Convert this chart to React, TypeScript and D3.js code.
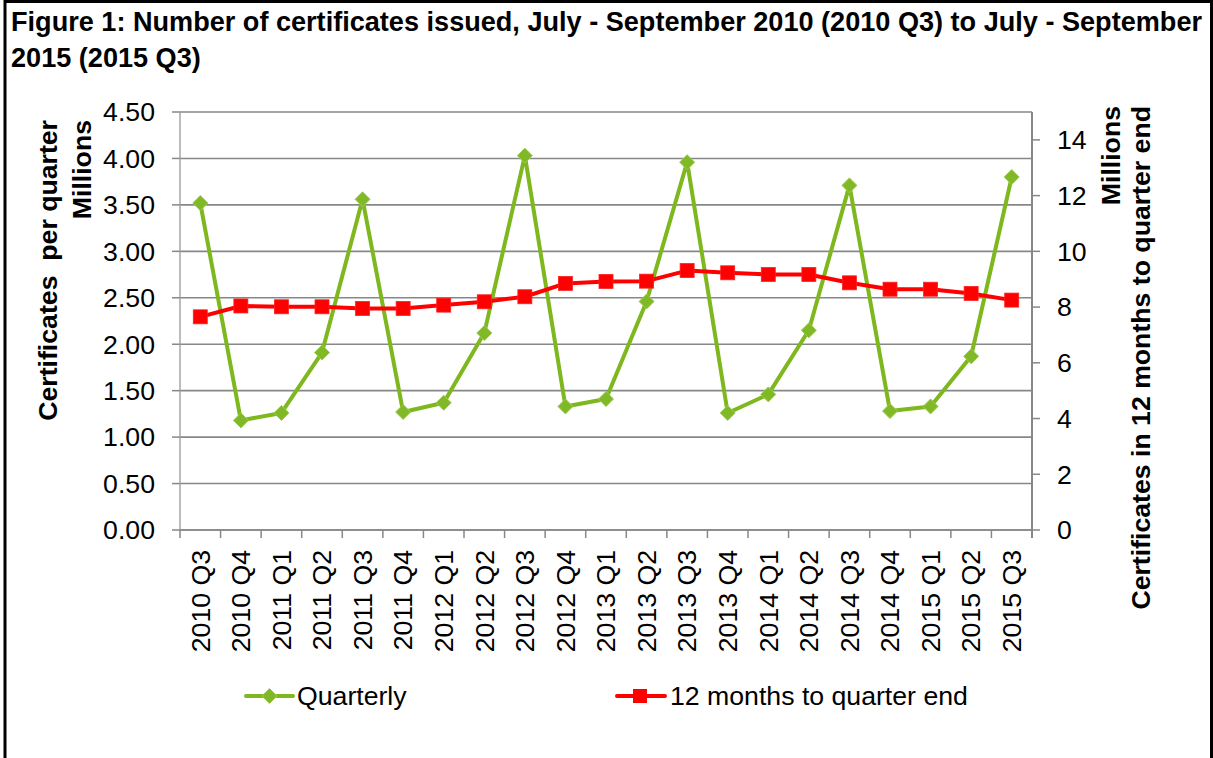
import React from "react";
import * as d3 from "d3";

const categories = [
  "2010 Q3", "2010 Q4", "2011 Q1", "2011 Q2", "2011 Q3", "2011 Q4", "2012 Q1",
  "2012 Q2", "2012 Q3", "2012 Q4", "2013 Q1", "2013 Q2", "2013 Q3", "2013 Q4",
  "2014 Q1", "2014 Q2", "2014 Q3", "2014 Q4", "2015 Q1", "2015 Q2", "2015 Q3",
];
// Certificates per quarter (millions, left axis)
const quarterly = [
  3.52, 1.18, 1.26, 1.91, 3.56, 1.27, 1.37, 2.12, 4.03, 1.33, 1.41,
  2.46, 3.96, 1.26, 1.46, 2.15, 3.71, 1.28, 1.33, 1.87, 3.8,
];
// Certificates in 12 months to quarter end (millions, right axis)
const rolling = [
  7.65, 8.04, 8.01, 8.01, 7.95, 7.95, 8.07, 8.19, 8.37, 8.85, 8.92,
  8.93, 9.31, 9.23, 9.17, 9.17, 8.87, 8.64, 8.64, 8.49, 8.25,
];
const leftTicks = [0, 0.5, 1, 1.5, 2, 2.5, 3, 3.5, 4, 4.5];
const rightTicks = [0, 2, 4, 6, 8, 10, 12, 14];
const seriesNames = ["Quarterly", "12 months to quarter end"];
const titleLines = [
  "Figure 1: Number of certificates issued, July - September 2010 (2010 Q3) to July - September",
  "2015 (2015 Q3)",
];

const W = 1213;
const H = 758;
const FONT = "'Liberation Sans', Arial, Helvetica, sans-serif";
const FS = 26.67;
const GREEN = "#7EB71E";
const GREEN_FILL = "#80B925";
const GREEN_EDGE = "#9BCB55";
const RED = "#FF0000";
const GRID = "#878787";

export default function App() {
  const left = 180, right = 1032, top = 112, bottom = 530;
  const x = d3.scaleBand<string>().domain(categories).range([left, right]);
  const yL = d3.scaleLinear().domain([0, 4.5]).range([bottom, top]);
  const yR = d3.scaleLinear().domain([0, 15]).range([bottom, top]);
  const cx = (c: string) => (x(c) as number) + x.bandwidth() / 2;

  const lineQ = d3.line<number>().x((_, i) => cx(categories[i])).y((d) => yL(d));
  const lineR = d3.line<number>().x((_, i) => cx(categories[i])).y((d) => yR(d));

  const diamond = (px: number, py: number, r: number) =>
    `M${px},${py - r}L${px + r},${py}L${px},${py + r}L${px - r},${py}Z`;

  const tickEdges = d3.range(categories.length + 1).map((i) => left + i * x.step());

  return (
    <svg
      width={W}
      height={H}
      style={{ position: "absolute", left: 0, top: 0, background: "#fff" }}
      fontFamily={FONT}
    >
      <rect x={0} y={0} width={W} height={H} fill="#fff" />
      {/* frame */}
      <path d={`M5,${H}V1.5H1211.5V${H}`} fill="none" stroke="#000" strokeWidth={3} />

      {/* title */}
      {titleLines.map((t, i) => (
        <text key={i} x={11} y={31 + i * 35.5} fontSize={27.1} fontWeight="bold" fill="#000">
          {t}
        </text>
      ))}

      {/* gridlines */}
      {leftTicks.map((t) => (
        <line key={t} x1={left} x2={right} y1={yL(t)} y2={yL(t)} stroke={GRID} strokeWidth={1.6} />
      ))}

      {/* left axis */}
      <line x1={left} x2={left} y1={top} y2={bottom} stroke="#a6a6a6" strokeWidth={1.5} />
      {leftTicks.map((t) => (
        <g key={t}>
          <line x1={left - 8} x2={left} y1={yL(t)} y2={yL(t)} stroke={GRID} strokeWidth={1.5} />
          <text x={155} y={yL(t)} dy="0.35em" textAnchor="end" fontSize={FS} fill="#000">
            {d3.format(".2f")(t)}
          </text>
        </g>
      ))}

      {/* right axis */}
      <line x1={right} x2={right} y1={top} y2={bottom + 8} stroke={GRID} strokeWidth={2} />
      {rightTicks.map((t) => (
        <g key={t}>
          <line x1={right} x2={right + 8} y1={yR(t)} y2={yR(t)} stroke={GRID} strokeWidth={1.5} />
          <text x={1057} y={yR(t)} dy="0.35em" textAnchor="start" fontSize={FS} fill="#000">
            {t}
          </text>
        </g>
      ))}

      {/* x axis */}
      <line x1={left} x2={right} y1={bottom} y2={bottom} stroke={GRID} strokeWidth={1.6} />
      {tickEdges.map((e, i) => (
        <line key={i} x1={e} x2={e} y1={bottom} y2={bottom + 8} stroke={GRID} strokeWidth={1.5} />
      ))}
      {categories.map((c) => (
        <text
          key={c}
          transform={`translate(${cx(c)},550) rotate(-90)`}
          dy="0.35em"
          textAnchor="end"
          fontSize={FS}
          fill="#000"
        >
          {c}
        </text>
      ))}

      {/* axis titles */}
      <text
        transform="translate(57,120) rotate(-90)"
        textAnchor="end"
        fontSize={FS}
        fontWeight="bold"
        style={{ whiteSpace: "pre" }}
      >
        {"Certificates  per quarter"}
      </text>
      <text transform="translate(90.5,120) rotate(-90)" textAnchor="end" fontSize={FS} fontWeight="bold">
        Millions
      </text>
      <text transform="translate(1120,106) rotate(-90)" textAnchor="end" fontSize={FS} fontWeight="bold">
        Millions
      </text>
      <text
        transform="translate(1150,106) rotate(-90)"
        textAnchor="end"
        fontSize={FS}
        fontWeight="bold"
      >
        Certificates in 12 months to quarter end
      </text>

      {/* series: quarterly */}
      <path d={lineQ(quarterly) || ""} fill="none" stroke={GREEN} strokeWidth={4} strokeLinejoin="round" />
      {quarterly.map((v, i) => (
        <path
          key={i}
          d={diamond(cx(categories[i]), yL(v), 7.5)}
          fill={GREEN_FILL}
          stroke={GREEN_EDGE}
          strokeWidth={1}
        />
      ))}

      {/* series: rolling 12 months */}
      <path d={lineR(rolling) || ""} fill="none" stroke={RED} strokeWidth={4} strokeLinejoin="round" />
      {rolling.map((v, i) => (
        <rect
          key={i}
          x={cx(categories[i]) - 7}
          y={yR(v) - 7}
          width={14}
          height={14}
          fill={RED}
          stroke="#FF2020"
          strokeWidth={0.8}
        />
      ))}

      {/* legend */}
      <g>
        <line x1={246} x2={293} y1={696} y2={696} stroke={GREEN} strokeWidth={4} strokeLinecap="round" />
        <path d={diamond(269.5, 696, 7.5)} fill={GREEN_FILL} stroke={GREEN_EDGE} strokeWidth={1} />
        <text x={297} y={696} dy="0.35em" fontSize={FS} fill="#000">
          {seriesNames[0]}
        </text>
      </g>
      <g>
        <line x1={617} x2={665} y1={696} y2={696} stroke={RED} strokeWidth={4} strokeLinecap="round" />
        <rect x={633} y={689} width={14} height={14} fill={RED} />
        <text x={670} y={696} dy="0.35em" fontSize={FS} fill="#000">
          {seriesNames[1]}
        </text>
      </g>
    </svg>
  );
}
